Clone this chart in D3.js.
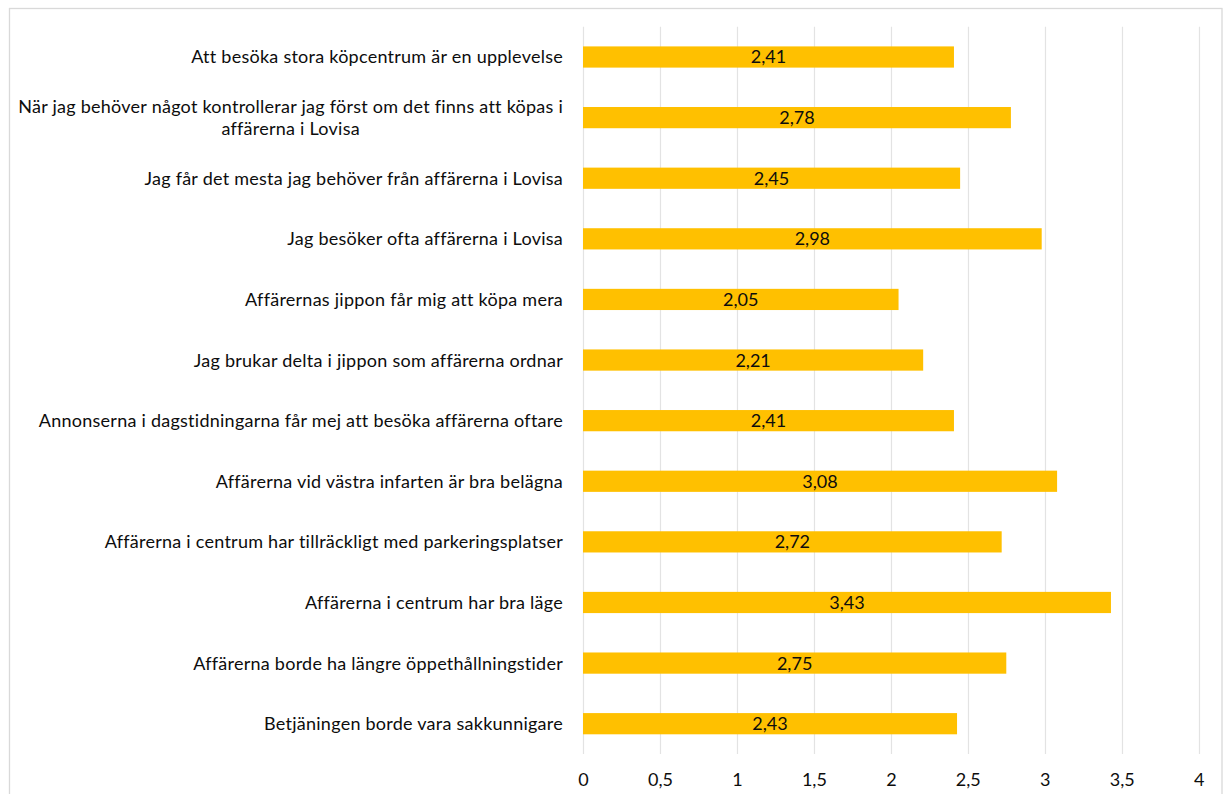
<!DOCTYPE html>
<html>
<head>
<meta charset="utf-8">
<script src="https://cdn.jsdelivr.net/npm/d3@7"></script>
<style>
  html, body { margin: 0; padding: 0; background: #fff; }
  svg { display: block; }
</style>
</head>
<body>
<svg id="chart" width="1229" height="794"></svg>
<script>
// Statements (top to bottom) and their mean scores
const categories = [
  "Att besöka stora köpcentrum är en upplevelse",
  "När jag behöver något kontrollerar jag först om det finns att köpas i\naffärerna i Lovisa",
  "Jag får det mesta jag behöver från affärerna i Lovisa",
  "Jag besöker ofta affärerna i Lovisa",
  "Affärernas jippon får mig att köpa mera",
  "Jag brukar delta i jippon som affärerna ordnar",
  "Annonserna i dagstidningarna får mej att besöka affärerna oftare",
  "Affärerna vid västra infarten är bra belägna",
  "Affärerna i centrum har tillräckligt med parkeringsplatser",
  "Affärerna i centrum har bra läge",
  "Affärerna borde ha längre öppethållningstider",
  "Betjäningen borde vara sakkunnigare"
];
const values = [2.41, 2.78, 2.45, 2.98, 2.05, 2.21, 2.41, 3.08, 2.72, 3.43, 2.75, 2.43];
const xTicks = [0, 0.5, 1, 1.5, 2, 2.5, 3, 3.5, 4];

const fmt = v => String(v).replace(".", ",");
const FONT = "Lato, 'Open Sans', sans-serif";
const TEXT = "#0d0d0d";

const svg = d3.select("#chart");

// Outer chart frame
svg.append("rect")
  .attr("x", 9.5).attr("y", 8.5)
  .attr("width", 1212.5).attr("height", 800)
  .attr("fill", "#fff").attr("stroke", "#d9d9d9").attr("stroke-width", 1.3);

const plot = { left: 583, right: 1198.7, top: 26.7, bottom: 754 };

const x = d3.scaleLinear().domain([0, 4]).range([plot.left, plot.right]);
const y = d3.scaleBand().domain(d3.range(categories.length))
  .range([plot.top, plot.bottom]).paddingInner(0.65).paddingOuter(0.325);

// Vertical gridlines
svg.append("g").selectAll("line").data(xTicks).join("line")
  .attr("x1", d => Math.round(x(d)) + 0.5).attr("x2", d => Math.round(x(d)) + 0.5)
  .attr("y1", plot.top).attr("y2", plot.bottom)
  .attr("stroke", "#e3e3e3").attr("stroke-width", 1.2);

// Bars
svg.append("g").selectAll("rect").data(values).join("rect")
  .attr("x", x(0))
  .attr("y", (d, i) => y(i))
  .attr("width", d => x(d) - x(0))
  .attr("height", y.bandwidth())
  .attr("fill", "#ffc000");

// Value labels centred in each bar
svg.append("g").selectAll("text").data(values).join("text")
  .attr("x", d => (x(0) + x(d)) / 2)
  .attr("y", (d, i) => y(i) + y.bandwidth() / 2)
  .attr("dy", "0.36em")
  .attr("text-anchor", "middle")
  .attr("font-family", FONT).attr("font-size", 18)
  .attr("fill", TEXT)
  .text(fmt);

// X axis tick labels
const xAxis = d3.axisBottom(x).tickValues(xTicks).tickFormat(fmt).tickSize(0).tickPadding(0);
const gx = svg.append("g").attr("transform", `translate(0, ${plot.bottom + 20})`).call(xAxis);
gx.select(".domain").remove();
gx.selectAll("text").attr("font-family", FONT).attr("font-size", 18).attr("fill", TEXT)
  .attr("dy", "0.36em").attr("y", 6);

// Category labels, right-aligned block, multi-line labels centred within the block
const labelRight = plot.left - 20;
const lineH = 22;
const gl = svg.append("g");
categories.forEach((c, i) => {
  const lines = c.split("\n");
  const cy = y(i) + y.bandwidth() / 2;
  const t = gl.append("text")
    .attr("font-family", FONT).attr("font-size", 18)
    .attr("letter-spacing", 0.25).attr("fill", TEXT);
  lines.forEach((ln, k) => {
    t.append("tspan").attr("x", 0)
      .attr("y", cy + (k - (lines.length - 1) / 2) * lineH).attr("dy", "0.36em").text(ln);
  });
  if (lines.length === 1) {
    t.attr("text-anchor", "end").selectAll("tspan").attr("x", labelRight);
  } else {
    const w = d3.max(t.selectAll("tspan").nodes(), n => n.getComputedTextLength());
    t.attr("text-anchor", "middle").selectAll("tspan").attr("x", labelRight - w / 2);
  }
});
</script>
</body>
</html>
